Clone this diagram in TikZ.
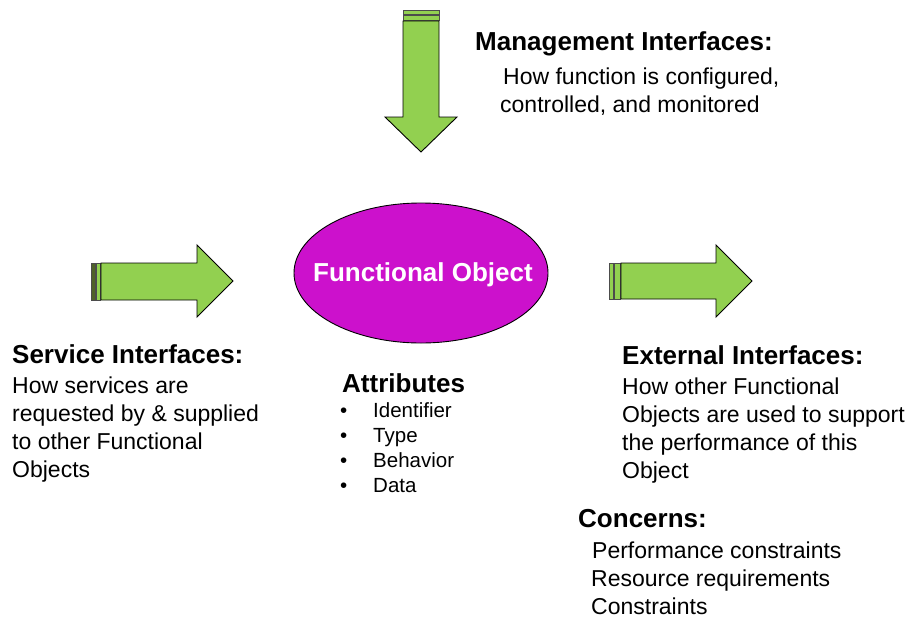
\documentclass[tikz,border=0pt]{standalone}
\usepackage{fontspec}
\setmainfont{Liberation Sans}
\definecolor{arrgreen}{HTML}{92D050}
\definecolor{darkstripe}{HTML}{4F6228}
\definecolor{objmag}{HTML}{CC11CC}
\tikzset{
  arrowbody/.style={draw=black, line width=0.9pt, fill=arrgreen, line join=miter},
  stripe/.style={draw=black!70, line width=0.6pt, fill=arrgreen},
  darkstr/.style={draw=black!70, line width=0.6pt, fill=darkstripe},
  headtxt/.style={font=\fontsize{26}{30}\selectfont\bfseries, anchor=base west, inner sep=0pt},
  bodytxt/.style={font=\fontsize{23}{27}\selectfont, anchor=base west, inner sep=0pt},
  itemtxt/.style={font=\fontsize{20.5}{25}\selectfont, anchor=base west, inner sep=0pt},
}
\begin{document}
\begin{tikzpicture}[x=1pt,y=-1pt]
\useasboundingbox (0,0) rectangle (909,618);
% top arrow
\draw[stripe] (403,10.5) rectangle (439,14);
\draw[stripe] (403,15) rectangle (439,20);
\draw[arrowbody] (403,21) -- (403,117) -- (385,117) -- (421,152) -- (457,117) -- (439,117) -- (439,21) -- cycle;
% left arrow
\draw[darkstr] (91,263) rectangle (95,300);
\draw[stripe] (96,263) rectangle (100,300);
\draw[arrowbody] (101,263) -- (197,263) -- (197,245) -- (233,281) -- (197,317) -- (197,300) -- (101,300) -- cycle;
% right arrow
\draw[stripe] (609,263) rectangle (613,299);
\draw[stripe] (614,263) rectangle (620,299);
\draw[arrowbody] (621,263) -- (716,263) -- (716,245) -- (752,281) -- (716,317) -- (716,299) -- (621,299) -- cycle;
% central object
\draw[fill=objmag, draw=black, line width=0.9pt] (421,273) ellipse [x radius=127, y radius=70];
\node[font=\fontsize{26}{30}\selectfont\bfseries, text=white, inner sep=0pt, anchor=base] (fo) at (423,281) {Functional Object};
% management
\node[headtxt] (mgmt) at (475,51) {Management Interfaces:};
\node[bodytxt] (mgmt1) at (503,84) {How function is configured,};
\node[bodytxt] (mgmt2) at (500,112) {controlled, and monitored};
% service
\node[headtxt] (serv) at (12,363) {Service Interfaces:};
\node[bodytxt] (serv1) at (12,393) {How services are};
\node[bodytxt] (serv2) at (12,421) {requested by \& supplied};
\node[bodytxt] (serv3) at (12,449) {to other Functional};
\node[bodytxt] (serv4) at (12,477) {Objects};
% attributes
\node[headtxt] (attr) at (342,392) {Attributes};
\node[itemtxt] (b1) at (340,417) {•}; \node[itemtxt] (a1) at (373,417) {Identifier};
\node[itemtxt] (b2) at (340,442) {•}; \node[itemtxt] (a2) at (373,442) {Type};
\node[itemtxt] (b3) at (340,467) {•}; \node[itemtxt] (a3) at (373,467) {Behavior};
\node[itemtxt] (b4) at (340,492) {•}; \node[itemtxt] (a4) at (373,492) {Data};
% external
\node[headtxt] (ext) at (622,364) {External Interfaces:};
\node[bodytxt] (ext1) at (622,394) {How other Functional};
\node[bodytxt] (ext2) at (622,422) {Objects are used to support};
\node[bodytxt] (ext3) at (622,450) {the performance of this};
\node[bodytxt] (ext4) at (622,478) {Object};
% concerns
\node[headtxt] (conc) at (578,527) {Concerns:};
\node[bodytxt] (c1) at (592,558) {Performance constraints};
\node[bodytxt] (c2) at (591,586) {Resource requirements};
\node[bodytxt] (c3) at (591,614) {Constraints};
\end{tikzpicture}
\end{document}
